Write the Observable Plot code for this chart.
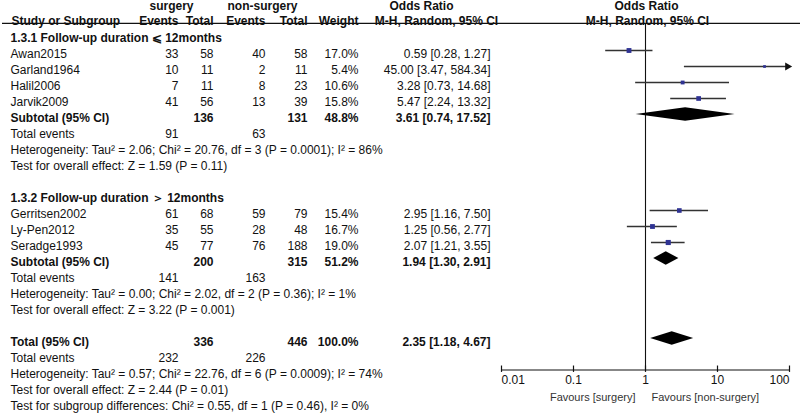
<!DOCTYPE html>
<html><head><meta charset="utf-8">
<script src="https://cdn.jsdelivr.net/npm/d3@7"></script>
<script src="https://cdn.jsdelivr.net/npm/@observablehq/plot@0.6"></script>
<style>body{margin:0;background:#fff}svg{display:block}</style>
</head><body><div id="chart"></div>
<script>
// ---- data ----
const groupTitles = ["1.3.1 Follow-up duration \u2A7D 12months", "1.3.2 Follow-up duration \uFF1E 12months"];
const studies = ["Awan2015", "Garland1964", "Halil2006", "Jarvik2009", "Gerritsen2002", "Ly-Pen2012", "Seradge1993"];
const studyGroup = [0, 0, 0, 0, 1, 1, 1];
const surgEvents = [33, 10, 7, 41, 61, 35, 45];
const surgTotal = [58, 11, 11, 56, 68, 55, 77];
const nonEvents = [40, 2, 8, 13, 59, 28, 76];
const nonTotal = [58, 11, 23, 39, 79, 48, 188];
const weights = [17.0, 5.4, 10.6, 15.8, 15.4, 16.7, 19.0];
const oddsRatio = [0.59, 45.00, 3.28, 5.47, 2.95, 1.25, 2.07];
const ciLow = [0.28, 3.47, 0.73, 2.24, 1.16, 0.56, 1.21];
const ciHigh = [1.27, 584.34, 14.68, 13.32, 7.50, 2.77, 3.55];

const summaryLabels = ["Subtotal (95% CI)", "Subtotal (95% CI)", "Total (95% CI)"];
const summarySurgTotal = [136, 200, 336];
const summaryNonTotal = [131, 315, 446];
const summaryWeight = [48.8, 51.2, 100.0];
const summaryOR = [3.61, 1.94, 2.35];
const summaryLow = [0.74, 1.30, 1.18];
const summaryHigh = [17.52, 2.91, 4.67];
const totalEventsSurg = [91, 141, 232];
const totalEventsNon = [63, 163, 226];
const hetTexts = [
  "Heterogeneity: Tau\u00B2 = 2.06; Chi\u00B2 = 20.76, df = 3 (P = 0.0001); I\u00B2 = 86%",
  "Heterogeneity: Tau\u00B2 = 0.00; Chi\u00B2 = 2.02, df = 2 (P = 0.36); I\u00B2 = 1%",
  "Heterogeneity: Tau\u00B2 = 0.57; Chi\u00B2 = 22.76, df = 6 (P = 0.0009); I\u00B2 = 74%"
];
const overallTexts = [
  "Test for overall effect: Z = 1.59 (P = 0.11)",
  "Test for overall effect: Z = 3.22 (P = 0.001)",
  "Test for overall effect: Z = 2.44 (P = 0.01)"
];
const subgroupDiffText = "Test for subgroup differences: Chi\u00B2 = 0.55, df = 1 (P = 0.46), I\u00B2 = 0%";
const axisTicks = [0.01, 0.1, 1, 10, 100];
const axisTickLabels = ["0.01", "0.1", "1", "10", "100"];
const favourLabels = ["Favours [surgery]", "Favours [non-surgery]"];

// ---- layout of rows ----
const f2 = d3.format(".2f"), f1 = d3.format(".1f");
const ciText = (o, l, h) => `${f2(o)} [${f2(l)}, ${f2(h)}]`;
const cells = [];      // {k, col, text, bold}
const studyRows = [];  // {k, i}
const summaryRows = []; // {k, s}
let k = 0;
function addSummary(s) {
  summaryRows.push({k, s});
  cells.push({k, col: "label", text: summaryLabels[s], bold: true});
  cells.push({k, col: "t1", text: String(summarySurgTotal[s]), bold: true});
  cells.push({k, col: "t2", text: String(summaryNonTotal[s]), bold: true});
  cells.push({k, col: "w", text: f1(summaryWeight[s]) + "%", bold: true});
  cells.push({k, col: "ci", text: ciText(summaryOR[s], summaryLow[s], summaryHigh[s]), bold: true});
  k++;
  cells.push({k, col: "label", text: "Total events"});
  cells.push({k, col: "e1", text: String(totalEventsSurg[s])});
  cells.push({k, col: "e2", text: String(totalEventsNon[s])});
  k++;
  cells.push({k, col: "label", text: hetTexts[s]}); k++;
  cells.push({k, col: "label", text: overallTexts[s]}); k++;
}
for (let g = 0; g < groupTitles.length; g++) {
  cells.push({k, col: "label", text: groupTitles[g], bold: true}); k++;
  studies.forEach((name, i) => {
    if (studyGroup[i] !== g) return;
    studyRows.push({k, i});
    cells.push({k, col: "label", text: name});
    cells.push({k, col: "e1", text: String(surgEvents[i])});
    cells.push({k, col: "t1", text: String(surgTotal[i])});
    cells.push({k, col: "e2", text: String(nonEvents[i])});
    cells.push({k, col: "t2", text: String(nonTotal[i])});
    cells.push({k, col: "w", text: f1(weights[i]) + "%"});
    cells.push({k, col: "ci", text: ciText(oddsRatio[i], ciLow[i], ciHigh[i])});
    k++;
  });
  addSummary(g);
  k++;
}
addSummary(2);
cells.push({k, col: "label", text: subgroupDiffText}); k++;

const headerRows = [
  {k: -2, text: "surgery", x: 171, anchor: "middle"},
  {k: -2, text: "non-surgery", x: 262, anchor: "middle"},
  {k: -2, text: "Odds Ratio", x: 421, anchor: "middle"},
  {k: -2, text: "Odds Ratio", x: 646, anchor: "middle"},
  {k: -1.1, text: "Study or Subgroup", x: 11, anchor: "start"},
  {k: -1.1, text: "Events", x: 178, anchor: "end"},
  {k: -1.1, text: "Total", x: 213, anchor: "end"},
  {k: -1.1, text: "Events", x: 265, anchor: "end"},
  {k: -1.1, text: "Total", x: 307, anchor: "end"},
  {k: -1.1, text: "Weight", x: 358, anchor: "end"},
  {k: -1.1, text: "M-H, Random, 95% CI", x: 436, anchor: "middle"},
  {k: -1.1, text: "M-H, Random, 95% CI", x: 647, anchor: "middle"}
];

// column pixel offsets (styles, not data)
const cols = {label: [10, "start"], e1: [178, "end"], t1: [213, "end"], e2: [265, "end"], t2: [307, "end"], w: [358, "end"], ci: [490, "end"]};

const textMarks = [];
for (const [c, [x, anchor]] of Object.entries(cols)) {
  for (const bold of [false, true]) {
    const sub = cells.filter(d => d.col === c && !!d.bold === bold);
    if (!sub.length) continue;
    textMarks.push(Plot.text(sub, {y: "k", text: "text", frameAnchor: "left", dx: x, textAnchor: anchor,
      fontSize: 12, fontWeight: bold ? "bold" : "normal", fill: "#111"}));
  }
}
for (const anchor of ["start", "middle", "end"]) {
  headerRows.filter(d => d.anchor === anchor).forEach(d => {
    textMarks.push(Plot.text([d], {y: "k", text: "text", frameAnchor: "left", dx: d.x, textAnchor: anchor,
      fontSize: 12, fontWeight: "bold", fill: "#111"}));
  });
}

// diamonds
const diamondPts = [];
summaryRows.forEach(({k, s}) => {
  const h = 0.42;
  diamondPts.push({id: s, x: summaryLow[s], y1: k, y2: k});
  diamondPts.push({id: s, x: summaryOR[s], y1: k - h, y2: k + h});
  diamondPts.push({id: s, x: summaryHigh[s], y1: k, y2: k});
});

const headerLine = -0.94, axisRow = 20.72;
const xmax = axisTicks[axisTicks.length - 1];

const chart = Plot.plot({
  width: 800, height: 413,
  marginLeft: 0, marginRight: 0, marginTop: 0, marginBottom: 0,
  style: {fontFamily: "'Liberation Sans', Arial, sans-serif", background: "#fff"},
  x: {type: "log", domain: [axisTicks[0], xmax], range: [501, 789], axis: null},
  y: {domain: [-38 / 16, 375 / 16], range: [0, 413], axis: null},
  r: {type: "sqrt", domain: [0, 19], range: [0, 2.9]},
  marks: [
    Plot.ruleY([headerLine], {stroke: "#111", strokeWidth: 1.2, insetLeft: 2}),
    Plot.ruleX([1], {y1: headerLine, y2: axisRow, stroke: "#111", strokeWidth: 1.1}),
    Plot.ruleY(studyRows, {y: "k", x1: d => ciLow[d.i], x2: d => Math.min(ciHigh[d.i], xmax), stroke: "#333", strokeWidth: 1.4, dy: -4}),
    Plot.dot(studyRows.filter(d => ciHigh[d.i] > xmax), {x: () => xmax, y: "k", symbol: "triangle", rotate: 90, r: 3, fill: "#111", dy: -4, dx: -2}),
    Plot.dot(studyRows, {x: d => oddsRatio[d.i], y: "k", r: d => weights[d.i], symbol: "square", fill: "#2f3393", dy: -4}),
    Plot.areaY(diamondPts, {x: "x", y1: "y1", y2: "y2", z: "id", fill: "#000", dy: -4}),
    Plot.ruleY([axisRow], {x1: axisTicks[0], x2: xmax, stroke: "#111", strokeWidth: 1.2}),
    Plot.ruleX(axisTicks, {y1: axisRow - 0.25, y2: axisRow + 0.15, stroke: "#111", strokeWidth: 1.2}),
    Plot.text(axisTicks.slice(0, 1), {x: d => d, y: () => 21.375, text: (d, i) => axisTickLabels[0], textAnchor: "start", fontSize: 12, fill: "#111"}),
    Plot.text(axisTicks.slice(1, -1), {x: d => d, y: () => 21.375, text: (d, i) => axisTickLabels[i + 1], textAnchor: "middle", fontSize: 12, fill: "#111"}),
    Plot.text(axisTicks.slice(-1), {x: d => d, y: () => 21.375, text: () => axisTickLabels[axisTickLabels.length - 1], textAnchor: "end", fontSize: 12, fill: "#111"}),
    Plot.text([favourLabels[0]], {x: () => 1, y: () => 22.44, text: d => d, textAnchor: "end", dx: -10, fontSize: 11, fill: "#333"}),
    Plot.text([favourLabels[1]], {x: () => 1, y: () => 22.44, text: d => d, textAnchor: "start", dx: 6, fontSize: 11, fill: "#333"}),
    ...textMarks
  ]
});
document.getElementById("chart").append(chart);
</script></body></html>
